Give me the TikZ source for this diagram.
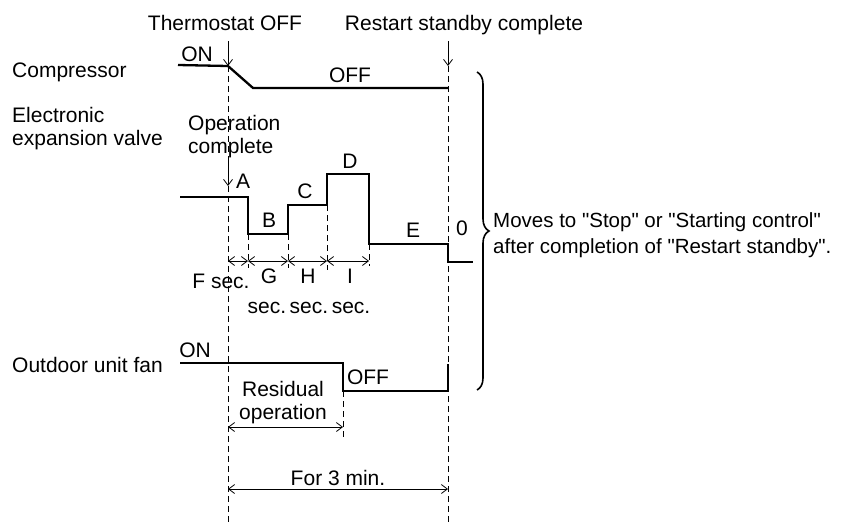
\documentclass[tikz,border=0pt]{standalone}
\usepackage{fontspec}
\setmainfont{Liberation Sans}
\usetikzlibrary{arrows.meta,decorations.pathreplacing}

\begin{document}
\begin{tikzpicture}[x=1pt, y=-1pt, font=\fontsize{21}{23}\selectfont,
    >={Straight Barb[length=6pt,width=9pt]},
    sig/.style={line width=2.3pt},
    guide/.style={line width=0.8pt, dash pattern=on 6pt off 4pt},
    dim/.style={<->, line width=0.8pt},
    pointer/.style={->, line width=0.8pt},
    lbl/.style={inner sep=0pt, anchor=base}]
    \useasboundingbox (0,0) rectangle (850,522);
    % Eventi
    \node[lbl] (thoff) at (225,30) {Thermostat OFF};
    \node[lbl] (rscomp) at (464,30) {Restart standby complete};
    \coordinate (thtop) at (228,41);
    \coordinate (th) at (228,66);
    \coordinate (thbot) at (228,522);
    \coordinate (rstop) at (448,41);
    \coordinate (rs) at (448,66);
    \coordinate (rsbot) at (448,522);
    \draw[pointer] (thtop) -- (th);
    \draw[pointer] (rstop) -- (rs);
    \draw[guide] (th) -- (thbot);
    \draw[guide] (rs) -- (rsbot);
    % Compressore
    \node[lbl, anchor=base west] (comp) at (12,77) {Compressor};
    \draw[sig] (178,65) -- (th) -- (253,88) -- (448,88);
    \node[lbl] (compon) at (197,61) {ON};
    \node[lbl] (compoff) at (350,82) {OFF};
    % Valvola (base = ultima riga)
    \node[lbl, anchor=base west, align=left] (eev) at (12,145) {Electronic\\expansion valve};
    \node[lbl, anchor=base west, align=left] (opc) at (188,153) {Operation\\complete};
    \coordinate (optop) at (228,158);
    \coordinate (op) at (228,186);
    \draw[pointer] (optop) -- (op);
    \draw[sig] (180,197) -- (248,197) -- (248,234) -- (288,234) -- (288,205) -- (327,205)
        -- (327,174) -- (369,174) -- (369,244) -- (448,244) -- (448,262) -- (473,262);
    \node[lbl] (va) at (243,188) {A};
    \node[lbl] (vb) at (269,227) {B};
    \node[lbl] (vc) at (305,198) {C};
    \node[lbl] (vd) at (350,168) {D};
    \node[lbl] (ve) at (413,237) {E};
    \node[lbl] (vz) at (462,235) {0};
    % Quote dei tempi
    \draw[guide] (248,234) -- (248,268);
    \draw[guide] (288,234) -- (288,268);
    \draw[guide] (327,205) -- (327,270);
    \draw[guide] (369,244) -- (369,266);
    \foreach \a/\b in {228/248, 248/288, 288/327, 327/369}
        \draw[dim] (\a,261) -- (\b,261);
    \node[lbl] (fsec) at (221,288) {F sec.};
    \node[lbl] (gsec) at (269,283) {G};
    \node[lbl] (hsec) at (308,283) {H};
    \node[lbl] (isec) at (350,283) {I};
    \node[lbl] (secs) at (309,313) {sec.\,sec.\,sec.};
    % Ventilatore
    \node[lbl, anchor=base west] (fan) at (12,372) {Outdoor unit fan};
    \draw[sig] (180,363) -- (343,363) -- (343,391) -- (448,391) -- (448,364);
    \node[lbl] (fanon) at (195,357) {ON};
    \node[lbl] (fanoff) at (368,384) {OFF};
    \draw[guide] (343,391) -- (343,438);
    \node[lbl, align=center] (resid) at (283,419) {Residual\\operation};
    \draw[dim] (228,427) -- (343,427);
    \node[lbl] (three) at (338,485) {For 3 min.};
    \draw[dim] (228,489) -- (448,489);
    % Parentesi
    \draw[line width=1.6pt, decorate, decoration={brace, amplitude=12pt}] (477,72) -- (477,390);
    \node[lbl, anchor=base west, align=left, font=\fontsize{20.5}{26}\selectfont] (moves) at (493,253)
        {Moves to \textquotedbl Stop\textquotedbl{} or \textquotedbl Starting control\textquotedbl\\
         after completion of \textquotedbl Restart standby\textquotedbl.};
\end{tikzpicture}
\end{document}
